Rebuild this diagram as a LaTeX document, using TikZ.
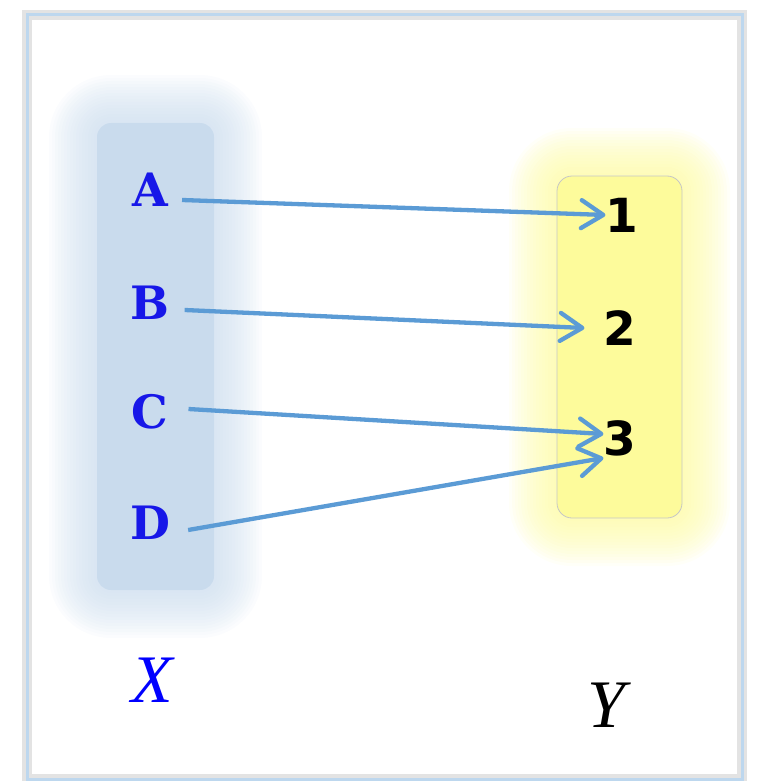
\documentclass[tikz,border=0pt]{standalone}
\usepackage{fontspec}
\usepackage{xcolor}
\usetikzlibrary{positioning, arrows.meta}
\newfontfamily\elemfont{DejaVu Serif}
\newfontfamily\digitfont{DejaVu Sans}
\newfontfamily\setnamefont{Liberation Serif}
\definecolor{mapblue}{HTML}{5B9BD5}
\definecolor{setblue}{HTML}{C9DBED}
\definecolor{setyellow}{HTML}{FDFB9B}
\definecolor{letterblue}{HTML}{1717E8}
\definecolor{framebl}{HTML}{BDD7EE}
\tikzset{
  elem/.style={inner sep=0pt, text=letterblue, font=\elemfont\bfseries\fontsize{46}{48}\selectfont},
  digit/.style={inner sep=0pt, font=\digitfont\bfseries\fontsize{47}{48}\selectfont},
  setname/.style={inner sep=0pt, font=\setnamefont\itshape\fontsize{68}{70}\selectfont},
  mapsto/.style={mapblue, line width=4.3pt, -{Straight Barb[length=22pt, width=28pt, round]}},
}

\begin{document}
\begin{tikzpicture}[x=1pt, y=-1pt]
  \useasboundingbox (0,0) rectangle (761,781);
  % frame
  \draw[gray!22, line width=10pt] (27,15) rectangle (742,779);
  \draw[framebl, line width=3pt] (27,15) rectangle (742,779);
  % glow round the two sets
  \foreach \i in {1,...,16} {
    \fill[setblue, opacity=0.07, rounded corners=14+\i*3] (97-\i*3,123-\i*3) rectangle (214+\i*3,590+\i*3);
    \fill[setyellow, opacity=0.07, rounded corners=15+\i*3] (557-\i*3,176-\i*3) rectangle (682+\i*3,518+\i*3);
  }
  \node[fill=setblue, rounded corners=14pt, minimum width=117pt, minimum height=467pt] (setX) at (155.5,356.5) {};
  \node[fill=setyellow, draw=gray!45, line width=0.8pt, rounded corners=15pt, minimum width=125pt, minimum height=342pt] (setY) at (619.5,347) {};
  % elements
  \foreach \n/\y in {A/190,B/303,C/412,D/523}
    \node[elem] (\n) at (150,\y) {\n};
  \node[digit] (n1) at (622,215) {1};
  \node[digit] (n2) at (620,328) {2};
  \node[digit] (n3) at (620,438) {3};
  \node[setname, text=blue] (labX) at (152,680) {X};
  \node[setname] (labY) at (606,705) {Y};
  % the map
  \draw[mapsto] ([xshift=14pt,yshift=-10pt]A.east) -- (n1.west);
  \draw[mapsto] ([xshift=15pt,yshift=-7pt]B.east) -- ([xshift=-19pt]n2.west);
  \draw[mapsto] ([xshift=20pt,yshift=3pt]C.east) -- ([yshift=4pt]n3.west);
  \draw[mapsto] ([xshift=18pt,yshift=-7pt]D.east) -- ([yshift=-2pt]n3.south west);
\end{tikzpicture}
\end{document}
